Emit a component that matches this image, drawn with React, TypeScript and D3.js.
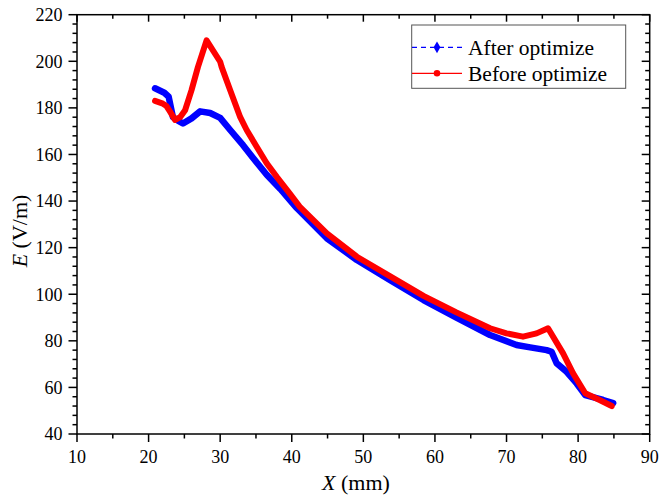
import React from "react";
import * as d3 from "d3";

// ---- data ----
const afterX = [20.9, 22.2, 22.8, 23.4, 24.1, 24.8, 26.0, 27.2, 28.6, 30.0, 31.4, 33.2, 34.6, 36.5, 38.4, 40.7, 44.9, 49.1, 53.7, 58.4, 63.0, 67.7, 71.4, 73.3, 75.6, 76.3, 77.0, 78.4, 79.8, 81.0, 83.5, 84.9];
const afterY = [188.4, 186.5, 184.8, 176.0, 174.5, 173.3, 175.5, 178.5, 177.8, 175.7, 170.5, 164.0, 158.5, 151.3, 145.2, 137.0, 124.0, 114.7, 106.1, 97.5, 90.0, 82.5, 78.2, 77.2, 76.0, 75.3, 70.4, 66.7, 61.7, 56.7, 54.6, 53.3];

const beforeX = [20.9, 22.0, 22.5, 23.0, 23.7, 24.4, 25.1, 26.0, 26.9, 28.1, 30.0, 30.2, 31.4, 32.8, 33.7, 35.1, 36.5, 37.9, 39.7, 41.1, 44.9, 49.1, 53.7, 58.4, 63.0, 67.7, 70.0, 72.3, 74.2, 75.8, 77.9, 79.3, 81.0, 83.0, 84.7];
const beforeY = [183.0, 181.8, 180.8, 178.4, 174.8, 176.0, 179.0, 187.6, 197.6, 209.0, 199.8, 197.6, 187.6, 176.0, 170.5, 163.3, 156.2, 150.4, 143.3, 137.6, 126.1, 116.1, 107.8, 99.3, 92.2, 85.4, 83.2, 81.8, 83.2, 85.4, 74.6, 66.0, 57.5, 54.6, 52.0];

const xTicks = [10, 20, 30, 40, 50, 60, 70, 80, 90];
const yTicks = [40, 60, 80, 100, 120, 140, 160, 180, 200, 220];
const xMinor = [15, 25, 35, 45, 55, 65, 75, 85];
const yMinor = d3.range(40, 221, 4).filter((v) => v % 20 !== 0);

const seriesNames = ["After optimize", "Before optimize"];

const W = 659;
const H = 500;
const L = 77;
const R = 649.7;
const T = 14.7;
const B = 434;

const FONT = "'Liberation Serif', 'Times New Roman', serif";

export default function App() {
  const x = d3.scaleLinear().domain([10, 90]).range([L, R]);
  const y = d3.scaleLinear().domain([40, 220]).range([B, T]);

  const line = d3
    .line<[number, number]>()
    .x((d) => x(d[0]))
    .y((d) => y(d[1]));

  const afterPts = afterX.map((v, i) => [v, afterY[i]] as [number, number]);
  const beforePts = beforeX.map((v, i) => [v, beforeY[i]] as [number, number]);

  const axisColor = "#000";
  const lw = 1.5;

  const diamond = d3.symbol().type(d3.symbolDiamond).size(40)();

  return (
    <svg
      width={W}
      height={H}
      style={{ position: "absolute", left: 0, top: 0, background: "#fff" }}
      fontFamily={FONT}
    >
      <rect x={0} y={0} width={W} height={H} fill="#fff" />

      {/* series */}
      <path
        d={line(afterPts) || ""}
        fill="none"
        stroke="#0000ff"
        strokeWidth={6.5}
        strokeLinejoin="round"
        strokeLinecap="round"
      />
      <path
        d={line(beforePts) || ""}
        fill="none"
        stroke="#ff0000"
        strokeWidth={6}
        strokeLinejoin="round"
        strokeLinecap="round"
      />

      {/* frame */}
      <rect x={L} y={T} width={R - L} height={B - T} fill="none" stroke={axisColor} strokeWidth={lw} />

      {/* bottom axis ticks (outward) and top (inward) */}
      {xTicks.map((t) => (
        <g key={"xt" + t}>
          <line x1={x(t)} x2={x(t)} y1={B} y2={B + 8} stroke={axisColor} strokeWidth={lw} />
          <line x1={x(t)} x2={x(t)} y1={T} y2={T + 7} stroke={axisColor} strokeWidth={lw} />
          <text x={x(t)} y={463} textAnchor="middle" fontSize={18} fill="#000">
            {t}
          </text>
        </g>
      ))}
      {xMinor.map((t) => (
        <g key={"xm" + t}>
          <line x1={x(t)} x2={x(t)} y1={B} y2={B + 4.5} stroke={axisColor} strokeWidth={lw} />
          <line x1={x(t)} x2={x(t)} y1={T} y2={T + 4} stroke={axisColor} strokeWidth={lw} />
        </g>
      ))}

      {/* left axis ticks (outward) and right (inward) */}
      {yTicks.map((t) => (
        <g key={"yt" + t}>
          <line x1={L - 8.5} x2={L} y1={y(t)} y2={y(t)} stroke={axisColor} strokeWidth={lw} />
          <line x1={R - 8} x2={R} y1={y(t)} y2={y(t)} stroke={axisColor} strokeWidth={lw} />
          <text x={62.5} y={y(t)} dy="0.35em" textAnchor="end" fontSize={18} fill="#000">
            {t}
          </text>
        </g>
      ))}
      {yMinor.map((t) => (
        <g key={"ym" + t}>
          <line x1={L - 4.5} x2={L} y1={y(t)} y2={y(t)} stroke={axisColor} strokeWidth={lw} />
          <line x1={R - 4.5} x2={R} y1={y(t)} y2={y(t)} stroke={axisColor} strokeWidth={lw} />
        </g>
      ))}

      {/* axis titles */}
      <text x={356} y={490} textAnchor="middle" fontSize={22} fill="#000">
        <tspan fontStyle="italic">X</tspan> (mm)
      </text>
      <text
        transform={`translate(27,231) rotate(-90)`}
        textAnchor="middle"
        fontSize={22}
        fill="#000"
      >
        <tspan fontStyle="italic">E</tspan> (V/m)
      </text>

      {/* legend */}
      <rect x={411.7} y={25} width={214} height={63.3} fill="#fff" stroke="#555" strokeWidth={1} />
      <line x1={412} x2={462} y1={47.3} y2={47.3} stroke="#0000ff" strokeWidth={1.3} strokeDasharray="5,4" />
      <path d={diamond || ""} transform="translate(437,47.3)" fill="#0000ff" />
      <text x={468} y={55} fontSize={21.5} fill="#000">
        {seriesNames[0]}
      </text>
      <line x1={412} x2={462} y1={73.3} y2={73.3} stroke="#ff0000" strokeWidth={1.3} />
      <circle cx={437} cy={73.3} r={3.3} fill="#ff0000" />
      <text x={468} y={81} fontSize={21.5} fill="#000">
        {seriesNames[1]}
      </text>
    </svg>
  );
}
